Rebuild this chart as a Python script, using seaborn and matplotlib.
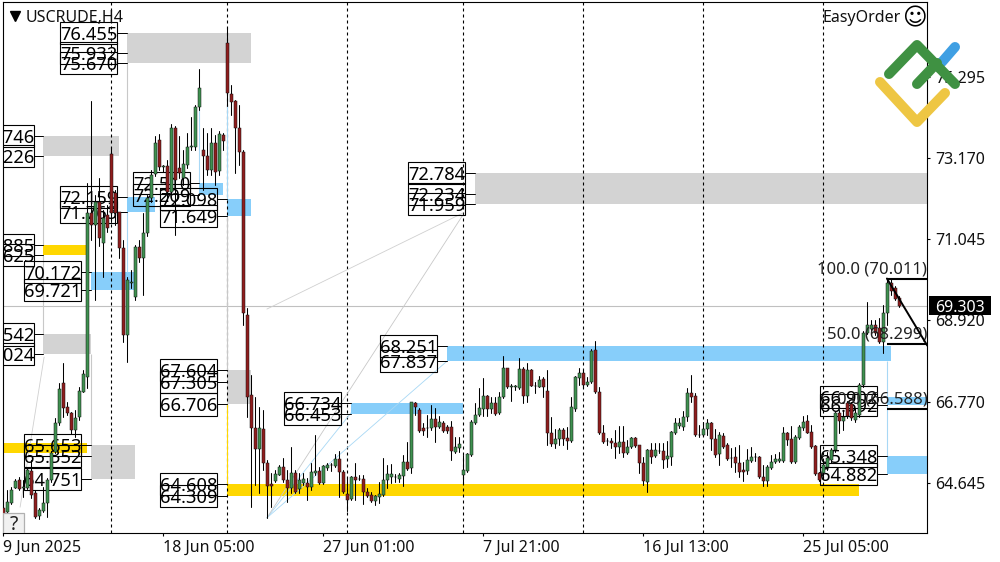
import pandas as pd
import matplotlib
matplotlib.use("Agg")
import matplotlib.pyplot as plt
from matplotlib.lines import Line2D
from matplotlib.patches import Rectangle
from matplotlib.transforms import blended_transform_factory
import seaborn as sns

# candles, one H4 bar per entry
opens = [
    63.99,63.88,64.12,64.51,64.72,64.51,64.51,64.96,64.38,63.78,63.91,64.12,64.72,65.46,66.22,
    67.27,66.64,66.48,66.04,66.38,67.03,67.43,71.73,71.42,72.02,70.95,71.68,73.28,72.26,71.76,
    70.81,68.53,69.90,69.53,70.84,70.55,71.21,72.13,72.76,73.65,72.94,72.96,72.28,73.96,72.91,
    72.65,72.99,73.47,73.47,74.51,73.39,73.23,72.86,73.57,72.84,73.78,76.20,74.86,74.67,73.96,
    73.33,69.06,66.95,66.09,65.54,66.06,65.17,64.62,64.70,64.85,65.06,64.72,64.51,64.91,64.49,
    64.65,64.65,64.54,64.91,64.96,64.65,65.04,65.12,65.09,65.27,64.93,64.36,64.23,64.80,64.75,
    64.75,64.41,64.33,64.17,64.28,64.33,64.72,64.80,64.80,64.75,64.83,65.20,65.04,66.75,66.56,
    66.09,66.09,66.09,66.33,66.12,66.22,66.12,66.12,65.46,65.56,64.85,64.96,65.38,66.22,66.43,
    66.59,66.93,66.59,66.75,66.48,66.90,67.66,67.17,67.17,67.14,67.64,66.93,67.61,67.19,67.17,
    67.38,67.06,65.96,65.67,65.80,66.04,65.83,65.75,66.59,67.40,67.53,67.22,67.30,68.14,67.03,
    65.96,65.75,65.75,65.69,65.59,65.72,65.43,65.59,65.83,65.64,65.17,64.67,65.51,65.35,65.48,
    65.48,65.27,65.33,65.96,66.14,66.12,66.38,67.01,66.93,65.90,65.90,66.06,66.22,65.80,65.41,
    65.88,65.64,65.30,65.33,65.17,64.99,64.96,65.22,65.33,65.33,64.80,64.70,65.04,65.20,65.22,
    65.22,65.96,65.80,65.20,65.83,66.09,66.27,65.98,65.62,64.91,64.91,65.06,65.25,65.51,66.48,
    66.27,66.75,66.72,66.30,66.43,67.22,68.58,68.69,68.79,68.71,68.35,69.11,69.90,69.76,69.50,
]
closes = [
    63.80,64.15,64.46,64.70,64.49,64.53,64.99,64.33,63.75,63.94,64.12,64.72,65.43,66.22,67.11,
    66.61,66.48,66.04,66.35,67.06,67.51,71.73,71.42,72.02,71.08,71.60,71.34,71.73,71.73,70.81,
    68.53,69.97,69.92,70.84,70.55,71.21,72.13,72.73,73.57,72.94,72.96,72.28,73.96,72.60,72.78,
    73.02,73.47,73.49,74.51,75.01,73.23,72.86,73.57,72.81,73.81,73.62,74.88,74.65,73.96,73.33,
    69.11,66.90,66.09,65.54,66.09,65.17,64.57,64.57,64.88,65.06,64.72,64.51,64.91,64.41,64.72,
    64.75,64.54,64.93,64.96,64.65,65.09,65.12,65.13,65.27,64.93,64.41,64.20,64.80,64.72,64.76,
    64.41,64.30,64.17,64.30,64.36,64.72,64.88,64.88,64.81,64.85,65.20,65.01,66.77,66.64,66.01,
    66.01,66.10,66.33,66.12,66.25,66.01,66.01,65.48,65.59,65.67,64.99,65.41,66.25,66.43,66.61,
    66.93,66.59,66.75,66.46,66.90,67.66,67.17,67.18,67.18,67.64,66.93,67.61,67.19,67.20,67.35,
    67.17,65.96,65.67,65.80,66.04,65.80,65.75,66.64,67.43,67.53,67.22,67.30,68.11,67.03,65.96,
    65.72,65.76,65.69,65.59,65.72,65.43,65.59,65.83,65.62,65.17,64.70,65.51,65.33,65.51,65.49,
    65.25,65.35,65.98,66.22,66.22,66.38,67.01,66.90,65.90,65.91,66.06,66.22,65.80,65.38,65.90,
    65.59,65.27,65.31,65.17,64.93,64.93,65.25,65.33,65.34,64.80,64.70,65.06,65.20,65.27,65.27,
    65.96,65.77,65.20,65.85,66.12,66.25,65.96,65.59,64.88,64.72,65.12,65.30,65.51,66.48,66.27,
    66.38,66.40,66.35,66.48,67.22,68.58,68.79,68.79,68.58,68.35,69.11,69.90,69.69,69.47,69.30,
]
highs = [
    64.38,64.46,64.54,64.75,64.80,64.72,65.04,65.25,64.46,63.99,64.54,64.78,65.48,66.35,67.27,
    67.80,66.77,66.51,66.56,67.17,67.61,72.52,74.67,72.20,72.65,71.81,71.94,73.47,72.34,71.76,
    71.02,70.05,70.24,70.89,71.02,71.73,72.20,72.86,73.75,73.81,72.99,73.12,74.07,74.02,73.75,
    73.39,73.83,74.25,74.57,75.51,73.96,73.83,73.96,73.78,73.89,73.83,76.62,75.09,74.70,74.57,
    73.39,69.24,67.48,66.90,66.64,66.56,65.25,64.91,64.99,65.12,65.30,64.99,65.59,64.99,64.91,
    64.91,64.78,65.17,65.90,65.06,65.12,65.17,65.17,65.41,65.48,64.99,64.80,64.83,65.17,64.85,
    64.85,64.51,64.41,64.33,64.67,65.30,65.12,65.14,64.88,64.91,65.38,65.72,66.77,66.77,66.61,
    66.22,66.43,66.69,66.61,66.40,66.27,66.17,66.27,65.85,65.85,65.38,65.43,66.30,66.75,67.14,
    67.40,66.95,66.90,66.90,67.03,67.98,67.66,67.24,67.22,67.93,67.69,67.80,67.64,67.30,67.45,
    67.43,67.61,66.38,66.06,66.09,66.09,66.12,66.90,67.45,67.66,67.61,67.43,68.16,68.37,67.17,
    66.17,65.83,65.83,66.04,66.14,66.14,65.77,65.85,65.85,65.64,65.33,65.54,65.69,65.69,65.69,
    65.69,65.75,66.01,66.35,66.35,66.53,67.14,67.48,67.01,66.17,66.25,66.33,66.25,66.06,65.98,
    65.96,65.69,65.56,65.59,65.64,65.20,65.54,65.59,65.43,65.35,65.12,65.12,65.38,65.41,65.46,
    66.12,65.98,66.14,65.90,66.17,66.40,66.43,66.17,65.64,64.93,65.25,65.46,65.56,66.51,66.56,
    66.56,66.80,66.77,66.61,67.27,68.63,69.40,68.92,68.92,68.98,69.32,70.03,70.00,69.82,69.55,
]
lows = [
    63.65,63.83,64.09,64.51,64.46,64.28,64.49,64.25,63.73,63.70,63.88,63.75,64.67,65.43,66.17,
    66.38,66.43,65.93,65.85,66.30,67.03,67.14,71.02,69.45,70.87,70.05,71.23,71.50,71.42,70.55,
    68.35,67.82,69.77,69.45,70.45,69.58,71.13,72.02,72.70,72.86,72.81,72.07,72.23,71.15,72.65,
    72.47,72.91,73.39,73.39,74.44,72.34,72.73,72.73,72.47,72.73,73.39,74.54,74.31,72.78,72.99,
    68.79,66.38,64.01,64.59,64.38,64.99,63.73,64.01,64.67,64.85,64.67,64.15,64.38,64.38,64.38,
    64.59,64.20,64.46,64.85,64.62,64.62,64.99,64.96,65.06,64.28,64.38,63.91,64.20,64.20,64.72,
    64.09,64.28,64.15,64.07,64.12,64.30,64.51,64.65,64.67,64.67,64.57,64.99,64.91,66.43,65.98,
    65.90,65.85,66.04,65.72,66.09,65.98,65.96,65.25,65.43,65.46,64.62,64.93,65.35,66.19,66.40,
    66.40,66.40,66.48,66.43,66.46,66.88,67.14,66.80,67.09,67.11,66.75,66.77,67.19,67.01,67.17,
    66.90,65.64,65.62,65.56,65.64,65.64,65.54,65.72,66.53,67.22,67.14,67.19,67.27,67.01,65.93,
    65.69,65.64,65.56,65.30,65.43,65.33,65.41,65.56,65.59,64.91,64.59,64.41,65.17,65.33,65.43,
    65.04,65.06,65.12,65.93,66.09,66.04,66.27,66.77,65.88,65.85,65.88,65.90,65.51,65.33,65.12,
    65.56,65.25,65.06,64.93,64.80,64.70,64.88,65.20,65.22,64.78,64.57,64.57,65.01,65.17,65.20,
    65.20,65.64,65.17,65.17,65.80,66.04,65.96,65.56,64.85,64.70,64.78,64.99,65.17,65.46,65.96,
    66.04,66.35,66.30,66.25,66.38,67.17,68.56,68.61,68.53,68.32,68.06,68.79,69.58,69.45,69.27,
]

# axis ticks
price_ticks = [64.645, 66.770, 68.920, 71.045, 73.170, 75.295]
date_ticks = [0, 40, 80, 120, 160, 200]
date_labels = ["9 Jun 2025", "18 Jun 05:00", "27 Jun 01:00", "7 Jul 21:00", "16 Jul 13:00", "25 Jul 05:00"]
period_seps = [27, 56, 86, 115, 145, 175, 205]
last_price = 69.303

# supply/demand zones
zone_left = [30.9, 9.9, 9.9, 21.9, 9.9, -0.1, 21.9, 30.9, 48.9, 55.9, 55.9, 55.9, 86.9, 110.9, 117.9, 220.9, 220.9]
zone_right = [61.9, 28.9, 20.9, 32.9, 21.9, 20.9, 32.9, 37.9, 54.9, 61.9, 61.9, 213.9, 114.9, 221.9, 231.0, 231.0, 231.0]
zone_top = [76.455, 73.746, 70.885, 70.172, 68.542, 65.700, 65.653, 72.159, 72.510, 72.098, 67.604, 64.608, 66.734, 68.251, 72.784, 65.348, 66.902]
zone_bottom = [75.670, 73.226, 70.625, 69.721, 68.024, 65.440, 64.751, 71.763, 72.209, 71.649, 66.706, 64.309, 66.453, 67.837, 71.959, 64.882, 66.692]
zone_kind = ["gray", "gray", "gold", "blue", "gray", "gold", "gray", "blue", "blue", "blue", "gray", "gold", "blue", "blue", "gray", "blue", "blue"]
zone_colors = {"gray": "#d3d3d3", "gold": "#ffd700", "blue": "#87cefa"}

# price labels beside the zones
label_values = [
    [76.455, 75.932, 75.670], [73.746, 73.226], [72.159, 71.763], [70.885, 70.625],
    [70.172, 69.721], [68.542, 68.024], [65.653, 65.352, 64.751], [72.510, 72.209],
    [72.098, 71.649], [67.604, 67.305, 66.706], [64.608, 64.309], [66.734, 66.453],
    [68.251, 67.837], [72.784, 72.234, 71.959], [66.902, 66.692], [65.348, 64.882],
]
label_end = [28.4, 7.7, 28.4, 7.7, 19.4, 7.7, 19.4, 46.7, 53.4, 53.4, 53.4, 84.4, 108.4, 115.4, 218.4, 218.4]
label_zone = [30.9, 9.9, 30.9, 9.9, 21.9, 9.9, 21.9, 48.9, 55.9, 55.9, 55.9, 86.9, 110.9, 117.9, 220.9, 220.9]

# thin connecting lines
vline_x = [30.9, 30.9, 9.9, 9.9, 21.9, 48.9, 55.9, 55.9, 55.9, 220.9, 220.9]
vline_from = [75.670, 71.763, 73.226, 70.625, 68.024, 74.500, 74.900, 71.649, 66.706, 67.837, 66.692]
vline_to = [72.159, 70.172, 70.885, 68.542, 65.653, 72.510, 72.098, 67.604, 64.608, 66.902, 65.348]
vline_color = ["#c8c8c8", "#a8d8f5", "#c8c8c8", "#c8c8c8", "#c8c8c8", "#a8d8f5", "#a8d8f5", "#c8c8c8", "#ffd700", "#a8d8f5", "#a8d8f5"]

diag_x0 = [65.9, 65.9, 65.9, 65.9, 4.2]
diag_x1 = [86.9, 110.9, 114.9, 114.9, 10.2]
diag_y0 = [63.73, 63.73, 63.73, 69.21, 64.01]
diag_y1 = [66.48, 67.84, 71.68, 71.73, 67.95]
diag_color = ["#a8d8f5", "#a8d8f5", "#c8c8c8", "#d0d0d0", "#d0d0d0"]

# fibonacci retracement
fib_labels = ["100.0 (70.011)", "50.0 (68.299)", "0.0 (66.588)"]
fib_levels = [70.011, 68.299, 66.588]
fib_x = [220.9, 231.0]
fib_trend = [70.011, 68.250]

sns.set_theme(style="white")
plt.rcParams["font.family"] = ["Noto Sans", "DejaVu Sans"]
plt.rcParams["axes.edgecolor"] = "black"

fig = plt.figure(figsize=(10, 5.62), dpi=100)
ax = fig.add_axes([0.0027, 0.0511, 0.9246, 0.9445])
ax.set_xlim(-0.15, 231.0)
ax.set_ylim(63.325, 77.256)

for l, r, t, b, k in zip(zone_left, zone_right, zone_top, zone_bottom, zone_kind):
    ax.add_patch(Rectangle((l, b), r - l, t - b, fc=zone_colors[k], ec="none", zorder=1))

ax.axhline(last_price, color="#c0c0c0", lw=0.8, zorder=1.5)
for x in period_seps:
    ax.axvline(x, color="black", lw=0.8, ls=(0, (2.7, 2.7)), zorder=1.6)
ax.vlines(vline_x, vline_from, vline_to, colors=vline_color, lw=0.8, zorder=1.7)
for x0, x1, y0, y1, c in zip(diag_x0, diag_x1, diag_y0, diag_y1, diag_color):
    ax.plot([x0, x1], [y0, y1], color=c, lw=0.6, zorder=1.7)

# label boxes are see-through, the candles sit on top of them
for vals, end, start in zip(label_values, label_end, label_zone):
    for v in vals:
        ax.add_patch(Rectangle((end - 14.25, v - 0.29), 14.25, 0.58, fc="none", ec="black", lw=0.8, zorder=2))
        ax.plot([end, start], [v, v], color="black", lw=0.7, zorder=2)
        ax.text(end - 7.1, v, f"{v:.3f}", fontsize=13.2, color="black", ha="center", va="center_baseline",
                clip_on=True, zorder=2)

candles = pd.DataFrame({"bar": range(len(opens)), "open": opens, "close": closes, "high": highs, "low": lows})
wicks = candles.melt(id_vars="bar", value_vars=["high", "low"], value_name="price").sort_values("bar")
sns.lineplot(data=wicks, x="bar", y="price", units="bar", estimator=None, sort=False,
             color="black", lw=0.75, legend=False, ax=ax, zorder=3)
body_colors = ["#3f9150" if c >= o else "#8f1d1d" for o, c in zip(candles["open"], candles["close"])]
ax.bar(candles["bar"], (candles["close"] - candles["open"]).abs(),
       bottom=candles[["open", "close"]].min(axis=1), width=0.72,
       color=body_colors, edgecolor="#111111", linewidth=0.35, zorder=3.5)

for label, level in zip(fib_labels, fib_levels):
    ax.plot(fib_x, [level, level], color="black", lw=1.5, zorder=4, solid_capstyle="butt")
    ax.annotate(label, xy=(fib_x[1], level), xytext=(0, 1), textcoords="offset points",
                ha="right", va="bottom", fontsize=12, color="#222222", zorder=4)
ax.plot(fib_x, fib_trend, color="black", lw=1.4, zorder=4)

ax.yaxis.tick_right()
ax.set_yticks(price_ticks, [f"{p:.3f}" for p in price_ticks])
ax.set_xticks(date_ticks, date_labels, ha="left")
ax.tick_params(axis="both", length=2.5, width=0.8, color="black", labelsize=11.5, labelcolor="#111111",
               right=True, bottom=True, left=False, pad=2)
ax.tick_params(axis="y", pad=3)
ax.set_xlabel("")
ax.set_ylabel("")
for s in ax.spines.values():
    s.set_visible(True)
    s.set_linewidth(0.8)
    s.set_color("black")

# last price tag on the right scale
tag = blended_transform_factory(ax.transAxes, ax.transData)
ax.add_patch(Rectangle((1.0018, last_price - 0.25), 0.067, 0.50, transform=tag, fc="black", ec="none",
                       clip_on=False, zorder=6))
ax.text(1.0085, last_price, f"{last_price:.3f}", transform=tag, color="white", fontsize=11.5, ha="left",
        va="center_baseline", clip_on=False, zorder=7)

ax.plot([0.0135], [0.9745], marker="v", ms=7, color="black", transform=ax.transAxes, clip_on=False, zorder=6)
ax.text(0.0252, 0.9745, "USCRUDE,H4", transform=ax.transAxes, fontsize=11.5, color="#111111",
        ha="left", va="center_baseline", zorder=6)
ax.text(0.8862, 0.9745, "EasyOrder", transform=ax.transAxes, fontsize=11.5, color="#111111",
        ha="left", va="center_baseline", zorder=6)
ax.text(0.9865, 0.9745, "\u263a", transform=ax.transAxes, fontsize=17, color="black", family="DejaVu Sans",
        ha="center", va="center_baseline", zorder=6)

# help button, bottom left
ax.add_patch(Rectangle((0, 0), 0.0227, 0.039, transform=ax.transAxes, fc="#f1f1f1", ec="#b0b0b0", lw=0.9, zorder=6))
ax.text(0.0125, 0.0195, "?", transform=ax.transAxes, fontsize=14, color="#222222", ha="center",
        va="center_baseline", zorder=7)

# broker logo, sits over the chart and the scale
def logo(xs, ys, color):
    fig.add_artist(Line2D([x / 1000 for x in xs], [1 - y / 562 for y in ys], color=color, lw=7.2,
                          solid_capstyle="round", solid_joinstyle="round", transform=fig.transFigure, zorder=10))

logo([942, 955], [62, 47], "#3f9fe3")
logo([880, 917, 945], [82, 122, 93], "#eec643")
logo([889, 917, 955], [74, 45, 84], "#3f9142")
logo([917, 937], [84, 63], "#3f9142")

fig.savefig("out.png", dpi=100)
